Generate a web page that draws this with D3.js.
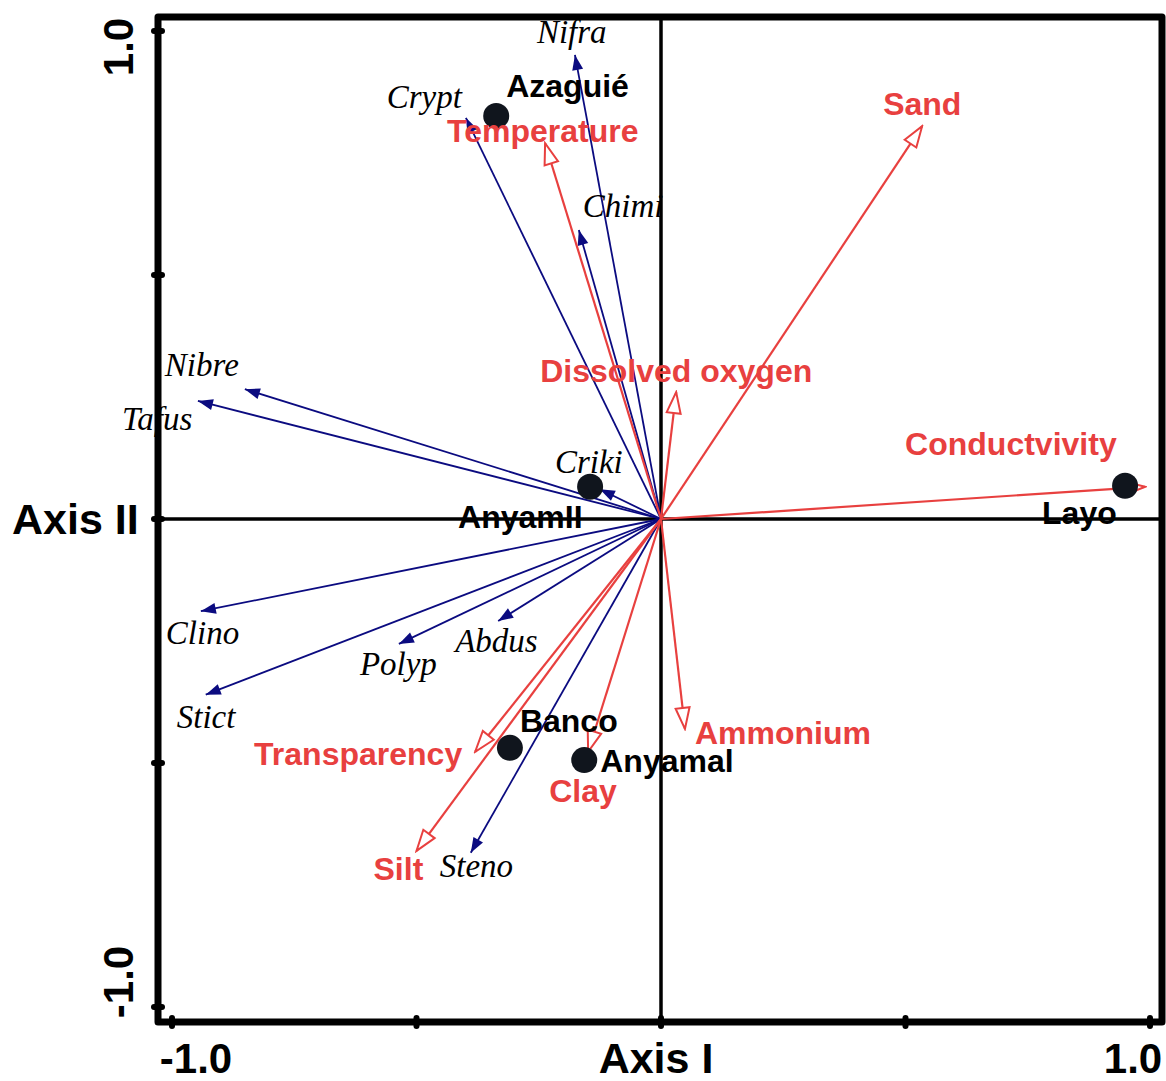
<!DOCTYPE html>
<html>
<head>
<meta charset="utf-8">
<script src="https://cdn.jsdelivr.net/npm/d3@7"></script>
<style>
  body { margin: 0; background: #fff; }
  svg { display: block; }
</style>
</head>
<body>
<svg id="chart" width="1166" height="1081"></svg>
<script>
// --- data (axis I, axis II) ---
var speciesNames = ["Nifra", "Crypt", "Chimi", "Nibre", "Tafus", "Criki", "Clino", "Stict", "Polyp", "Abdus", "Steno"];
var speciesX = [-0.176, -0.399, -0.168, -0.851, -0.947, -0.125, -0.941, -0.931, -0.536, -0.333, -0.389];
var speciesY = [0.951, 0.822, 0.592, 0.266, 0.242, 0.061, -0.189, -0.360, -0.256, -0.209, -0.684];

var envNames = ["Temperature", "Sand", "Dissolved oxygen", "Conductvivity", "Ammonium", "Clay", "Transparency", "Silt"];
var envX = [-0.237, 0.534, 0.031, 0.990, 0.049, -0.149, -0.380, -0.500];
var envY = [0.770, 0.805, 0.260, 0.066, -0.430, -0.477, -0.477, -0.680];

var siteNames = ["Azaguié", "AnyamII", "Banco", "Anyamal", "Layo"];
var siteX = [-0.337, -0.145, -0.309, -0.157, 0.949];
var siteY = [0.826, 0.066, -0.469, -0.494, 0.068];

var tickValues = [-1, -0.5, 0, 0.5, 1];

// --- label placement (pixels from the point, anchor) ---
var labelPos = {
    "Nifra": [-38, -12, "start"], "Crypt": [-4, -10, "end"], "Chimi": [4, -13, "start"],
    "Nibre": [-80, -13, "start"], "Tafus": [-76, 29, "start"], "Criki": [-45, -16, "start"],
    "Clino": [-35, 33, "start"], "Stict": [-29, 33, "start"], "Polyp": [-39, 31, "start"],
    "Abdus": [-43, 31, "start"], "Steno": [-31, 24, "start"],
    "Temperature": [-98, -1, "start"], "Sand": [-39, -11, "start"],
    "Dissolved oxygen": [-136, -10, "start"], "Conductvivity": [-240, -32, "start"],
    "Ammonium": [10, 15, "start"], "Clay": [-39, 50, "start"],
    "Transparency": [-13, 13, "end"], "Silt": [-43, 29, "start"],
    "Azaguié": [10, -19, "start"], "AnyamII": [-132, 41, "start"], "Banco": [10, -16, "start"],
    "Anyamal": [16, 12, "start"], "Layo": [-83, 38, "start"]
};

var NAVY = "#0b0b80";
var RED = "#e8403f";
var SANS = "'Liberation Sans', Arial, sans-serif";
var SERIF = "'Liberation Serif', 'Times New Roman', serif";

var svg = d3.select("#chart");

var x = d3.scaleLinear().domain([-1, 1]).range([172, 1150]);
var y = d3.scaleLinear().domain([-1, 1]).range([1007, 31]);

var frame = { left: 158, right: 1162, top: 17, bottom: 1022 };

// arrow heads
var defs = svg.append("defs");
defs.append("marker")
    .attr("id", "headSpecies")
    .attr("markerUnits", "userSpaceOnUse")
    .attr("viewBox", "-16 -8 17 16")
    .attr("markerWidth", 17).attr("markerHeight", 16)
    .attr("refX", 0).attr("refY", 0)
    .attr("orient", "auto")
    .append("path")
    .attr("d", "M-15,-5.5L0,0L-15,5.5Z")
    .attr("fill", NAVY);

defs.append("marker")
    .attr("id", "headEnv")
    .attr("markerUnits", "userSpaceOnUse")
    .attr("viewBox", "-24 -10 26 20")
    .attr("markerWidth", 26).attr("markerHeight", 20)
    .attr("refX", 0).attr("refY", 0)
    .attr("orient", "auto")
    .append("path")
    .attr("d", "M-21,-7L0,0L-21,7Z")
    .attr("fill", "#fff")
    .attr("stroke", RED)
    .attr("stroke-width", 2);

// axes through the origin
svg.append("line")
    .attr("x1", x(0)).attr("x2", x(0))
    .attr("y1", frame.top).attr("y2", frame.bottom)
    .attr("stroke", "#000").attr("stroke-width", 3.5);
svg.append("line")
    .attr("x1", frame.left).attr("x2", frame.right)
    .attr("y1", y(0)).attr("y2", y(0))
    .attr("stroke", "#000").attr("stroke-width", 3.5);

var species = speciesNames.map(function (d, i) { return { name: d, x: speciesX[i], y: speciesY[i] }; });
var env = envNames.map(function (d, i) { return { name: d, x: envX[i], y: envY[i] }; });
var sites = siteNames.map(function (d, i) { return { name: d, x: siteX[i], y: siteY[i] }; });

// species arrows
svg.append("g").selectAll("line").data(species).enter().append("line")
    .attr("x1", x(0)).attr("y1", y(0))
    .attr("x2", function (d) { return x(d.x); })
    .attr("y2", function (d) { return y(d.y); })
    .attr("stroke", NAVY).attr("stroke-width", 1.8)
    .attr("marker-end", "url(#headSpecies)");

// environmental arrows
svg.append("g").selectAll("line").data(env).enter().append("line")
    .attr("x1", x(0)).attr("y1", y(0))
    .attr("x2", function (d) { return x(d.x); })
    .attr("y2", function (d) { return y(d.y); })
    .attr("stroke", RED).attr("stroke-width", 2.2)
    .attr("marker-end", "url(#headEnv)");

// sites
svg.append("g").selectAll("circle").data(sites).enter().append("circle")
    .attr("cx", function (d) { return x(d.x); })
    .attr("cy", function (d) { return y(d.y); })
    .attr("r", 13)
    .attr("fill", "#10151d");

function addLabels(data, font, style, weight, size, color) {
    svg.append("g").selectAll("text").data(data).enter().append("text")
        .attr("x", function (d) { return x(d.x) + labelPos[d.name][0]; })
        .attr("y", function (d) { return y(d.y) + labelPos[d.name][1]; })
        .attr("text-anchor", function (d) { return labelPos[d.name][2]; })
        .style("font-family", font)
        .style("font-style", style)
        .style("font-weight", weight)
        .style("font-size", size)
        .attr("fill", color)
        .text(function (d) { return d.name; });
}
addLabels(species, SERIF, "italic", "normal", "33px", "#000");
addLabels(env, SANS, "normal", "bold", "32px", RED);
addLabels(sites, SANS, "normal", "bold", "32px", "#000");

// frame
svg.append("path")
    .attr("d", "M" + frame.left + "," + frame.top + "H" + frame.right + "V" + frame.bottom +
        "H" + frame.left + "Z")
    .attr("fill", "none").attr("stroke", "#000").attr("stroke-width", 7)
    .attr("stroke-linejoin", "round");

// tick blobs
svg.append("g").selectAll("line").data(tickValues).enter().append("line")
    .attr("x1", frame.left - 4).attr("x2", frame.left + 4)
    .attr("y1", function (d) { return y(d); })
    .attr("y2", function (d) { return y(d); })
    .attr("stroke", "#000").attr("stroke-width", 6).attr("stroke-linecap", "round");
svg.append("g").selectAll("line").data(tickValues).enter().append("line")
    .attr("y1", frame.bottom - 4).attr("y2", frame.bottom + 4)
    .attr("x1", function (d) { return x(d); })
    .attr("x2", function (d) { return x(d); })
    .attr("stroke", "#000").attr("stroke-width", 6).attr("stroke-linecap", "round");

// tick labels
var tickSize = "42px";
svg.append("text")
    .attr("x", x(-1) + 24).attr("y", 1073)
    .attr("text-anchor", "middle")
    .style("font-family", SANS).style("font-weight", "bold").style("font-size", tickSize)
    .text("-1.0");
svg.append("text")
    .attr("x", x(1) - 17).attr("y", 1073)
    .attr("text-anchor", "middle")
    .style("font-family", SANS).style("font-weight", "bold").style("font-size", tickSize)
    .text("1.0");
svg.append("text")
    .attr("transform", "translate(133," + (y(1) + 16) + ") rotate(-90)")
    .attr("text-anchor", "middle")
    .style("font-family", SANS).style("font-weight", "bold").style("font-size", tickSize)
    .text("1.0");
svg.append("text")
    .attr("transform", "translate(133," + (y(-1) - 25) + ") rotate(-90)")
    .attr("text-anchor", "middle")
    .style("font-family", SANS).style("font-weight", "bold").style("font-size", tickSize)
    .text("-1.0");

// axis titles
svg.append("text")
    .attr("x", x(0) - 5).attr("y", 1073)
    .attr("text-anchor", "middle")
    .style("font-family", SANS).style("font-weight", "bold").style("font-size", "43px")
    .text("Axis I");
svg.append("text")
    .attr("x", 12).attr("y", y(0) + 15)
    .attr("text-anchor", "start")
    .style("font-family", SANS).style("font-weight", "bold").style("font-size", "43px")
    .text("Axis II");
</script>
</body>
</html>
